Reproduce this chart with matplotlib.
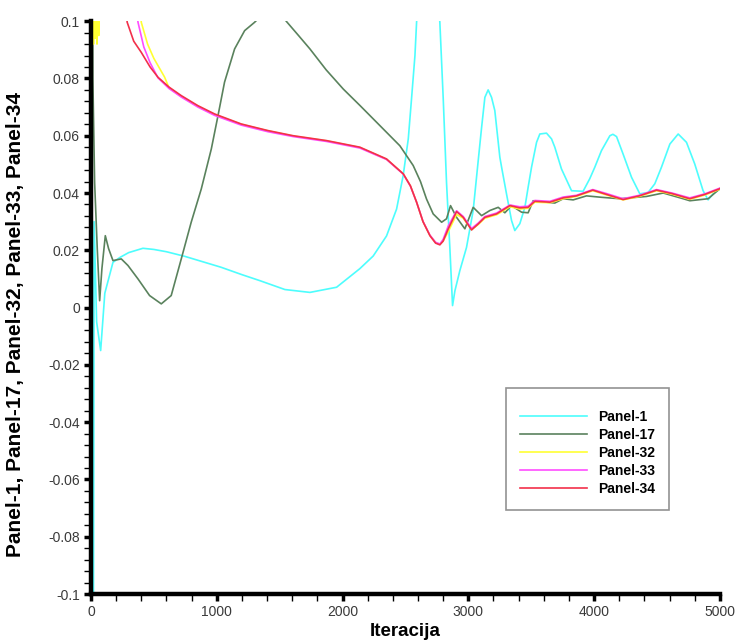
import matplotlib
matplotlib.use("Agg")
import matplotlib.pyplot as plt
from matplotlib.ticker import MultipleLocator

plt.rcParams['font.family'] = ['Liberation Sans', 'DejaVu Sans']

# Panel-1
p1_x = [0, 12, 25, 45, 77, 110, 175, 230, 300, 413, 500, 600, 745, 1033, 1200, 1343, 1542, 1741,
        1953, 2138, 2244, 2350, 2430, 2482, 2523, 2549, 2576, 2589, 2640, 2720, 2774, 2801, 2827,
        2854, 2875, 2894, 2933, 2986, 3039, 3079, 3106, 3132, 3158, 3185, 3211, 3251, 3265, 3304,
        3344, 3370, 3410, 3450, 3476, 3503, 3543, 3569, 3622, 3662, 3688, 3741, 3821, 3913, 3966,
        4006, 4059, 4126, 4150, 4179, 4231, 4298, 4364, 4430, 4483, 4536, 4603, 4669, 4735, 4801,
        4867, 4907, 4947, 5000]
p1_y = [0.3, -0.3, 0.03, -0.005, -0.015, 0.005, 0.0158, 0.0175, 0.0192, 0.0207, 0.0203, 0.0195,
        0.0179, 0.0141, 0.0115, 0.0094, 0.0063, 0.0053, 0.0071, 0.0136, 0.018, 0.025, 0.0344,
        0.046, 0.0589, 0.073, 0.088, 0.0996, 0.13, 0.13, 0.0996, 0.0728, 0.0437, 0.0205, 0.0007,
        0.0059, 0.0129, 0.021, 0.0339, 0.0513, 0.0629, 0.0734, 0.076, 0.0734, 0.0688, 0.0525,
        0.049, 0.0397, 0.0304, 0.0269, 0.0293, 0.035, 0.042, 0.049, 0.0577, 0.0606, 0.0609,
        0.0589, 0.056, 0.0484, 0.0408, 0.0406, 0.045, 0.049, 0.0548, 0.060, 0.0605, 0.0597,
        0.0536, 0.0455, 0.0397, 0.0402, 0.0432, 0.049, 0.0571, 0.0606, 0.0577, 0.0501, 0.0408,
        0.0376, 0.0397, 0.0414]

# Panel-17
p17_x = [0, 15, 29, 50, 69, 87, 114, 140, 175, 241, 294, 374, 466, 559, 638, 718, 797, 877, 957,
         1010, 1062, 1142, 1222, 1301, 1400, 1480, 1556, 1650, 1741, 1870, 2006, 2140, 2271, 2456,
         2562, 2620, 2668, 2721, 2788, 2827, 2859, 2907, 2973, 3039, 3106, 3172, 3238, 3291, 3344,
         3424, 3476, 3516, 3622, 3688, 3755, 3834, 3940, 4060, 4205, 4417, 4550, 4709, 4762, 4907,
         5000]
p17_y = [0.3, 0.08, 0.0437, 0.0206, 0.0024, 0.0136, 0.0251, 0.0206, 0.0164, 0.017, 0.0147,
         0.010, 0.0042, 0.0013, 0.0042, 0.017, 0.0298, 0.0414, 0.0554, 0.067, 0.0787, 0.0903,
         0.0967, 0.0996, 0.104, 0.104, 0.0998, 0.095, 0.0903, 0.083, 0.0763, 0.0705, 0.0647,
         0.0565, 0.0496, 0.044, 0.0379, 0.0327, 0.0298, 0.031, 0.0356, 0.0315, 0.0275, 0.035,
         0.0321, 0.0339, 0.035, 0.0331, 0.0356, 0.0333, 0.0331, 0.0373, 0.0368, 0.0365, 0.038,
         0.0376, 0.039, 0.0385, 0.038, 0.0388, 0.040, 0.038, 0.0373, 0.038, 0.0415]

# Panel-32
p32_x = [0, 10, 20, 27, 34, 41, 48, 55, 62, 70, 80, 300, 390, 400, 450, 500, 585, 620, 718, 850,
         983, 1195, 1407, 1608, 1873, 2138, 2350, 2483, 2540, 2589, 2640, 2695, 2740, 2774, 2800,
         2841, 2907, 2960, 3026, 3079, 3132, 3225, 3331, 3410, 3476, 3529, 3649, 3755, 3860, 3990,
         4100, 4231, 4360, 4497, 4620, 4761, 4880, 5000]
p32_y = [0.5, 0.12, 0.092, 0.115, 0.094, 0.12, 0.092, 0.13, 0.095, 0.14, 0.3, 0.3, 0.11, 0.0996,
         0.092, 0.087, 0.0805, 0.0768, 0.0737, 0.0703, 0.0674, 0.064, 0.0617, 0.0599, 0.0582,
         0.0559, 0.0518, 0.0467, 0.0425, 0.0368, 0.030, 0.0252, 0.0227, 0.0221, 0.0232, 0.0265,
         0.0325, 0.0312, 0.0272, 0.0290, 0.0312, 0.0324, 0.0352, 0.0344, 0.0347, 0.0368, 0.0366,
         0.0380, 0.0388, 0.0408, 0.0393, 0.0376, 0.0388, 0.0408, 0.0396, 0.0378, 0.0393, 0.0413]

# Panel-33
p33_x = [0, 100, 250, 330, 374, 420, 470, 533, 620, 718, 850, 983, 1195, 1407, 1608, 1873, 2138,
         2350, 2483, 2540, 2589, 2640, 2695, 2740, 2774, 2800, 2841, 2907, 2960, 3026, 3079, 3132,
         3225, 3331, 3410, 3476, 3529, 3649, 3755, 3860, 3990, 4100, 4231, 4360, 4497, 4620, 4761,
         4880, 5000]
p33_y = [0.5, 0.3, 0.16, 0.115, 0.0996, 0.091, 0.0855, 0.0802, 0.0765, 0.0735, 0.070, 0.0671,
         0.0637, 0.0614, 0.0597, 0.0580, 0.0557, 0.0517, 0.0466, 0.0424, 0.0368, 0.0301, 0.0253,
         0.0228, 0.0222, 0.0238, 0.0285, 0.0338, 0.0318, 0.0276, 0.0295, 0.0318, 0.0330, 0.0358,
         0.0352, 0.0354, 0.0374, 0.0371, 0.0386, 0.0392, 0.0412, 0.0398, 0.0380, 0.0392, 0.0412,
         0.0400, 0.0383, 0.0397, 0.0417]

# Panel-34
p34_x = [0, 100, 200, 250, 288, 340, 400, 470, 533, 620, 718, 850, 983, 1195, 1407, 1608, 1873,
         2138, 2350, 2483, 2540, 2589, 2640, 2695, 2740, 2774, 2800, 2841, 2907, 2960, 3026, 3079,
         3132, 3225, 3331, 3410, 3476, 3529, 3649, 3755, 3860, 3990, 4100, 4231, 4360, 4497, 4620,
         4761, 4880, 5000]
p34_y = [0.5, 0.3, 0.14, 0.115, 0.0996, 0.093, 0.0891, 0.084, 0.0804, 0.077, 0.074, 0.0705,
         0.0676, 0.0641, 0.0618, 0.060, 0.0583, 0.056, 0.0519, 0.0467, 0.0425, 0.0368, 0.030,
         0.0251, 0.0225, 0.0219, 0.0232, 0.0275, 0.0335, 0.0315, 0.0271, 0.0292, 0.0315, 0.0327,
         0.0356, 0.0348, 0.035, 0.0371, 0.0368, 0.0383, 0.039, 0.041, 0.0395, 0.0377, 0.039,
         0.041, 0.0398, 0.038, 0.0395, 0.0415]

x_ticks = [0, 1000, 2000, 3000, 4000, 5000]
x_labels = ["0", "1000", "2000", "3000", "4000", "5000"]
y_ticks = [-0.1, -0.08, -0.06, -0.04, -0.02, 0, 0.02, 0.04, 0.06, 0.08, 0.1]
y_labels = ["-0.1", "-0.08", "-0.06", "-0.04", "-0.02", "0", "0.02", "0.04", "0.06", "0.08", "0.1"]

fig = plt.figure(figsize=(7.36, 6.41), dpi=100)
ax = fig.add_axes([0.1236, 0.0733, 0.8544, 0.8937])

ax.plot(p1_x, p1_y, color="#4dfdfd", lw=1.2, label="Panel-1")
ax.plot(p17_x, p17_y, color="#5a825d", lw=1.2, label="Panel-17")
ax.plot(p32_x, p32_y, color="#ffff33", lw=1.2, label="Panel-32")
ax.plot(p33_x, p33_y, color="#ff4dff", lw=1.2, label="Panel-33")
ax.plot(p34_x, p34_y, color="#f2304a", lw=1.2, label="Panel-34")

ax.set_xlim(0, 5000)
ax.set_ylim(-0.1, 0.1)
ax.set_xticks(x_ticks)
ax.set_xticklabels(x_labels)
ax.set_yticks(y_ticks)
ax.set_yticklabels(y_labels)
ax.xaxis.set_minor_locator(MultipleLocator(200))
ax.yaxis.set_minor_locator(MultipleLocator(0.004))

for s in ["top", "right"]:
    ax.spines[s].set_visible(False)
for s in ["left", "bottom"]:
    ax.spines[s].set_linewidth(3.2)
    ax.spines[s].set_zorder(5)

ax.tick_params(which="major", direction="out", length=5, width=2.5, colors="black",
               labelsize=10, labelcolor="#3a3a3a", pad=3)
ax.tick_params(which="minor", direction="out", length=5, width=1, colors="black")

ax.set_xlabel("Iteracija", fontsize=13.5, fontweight="bold", labelpad=3)
ax.set_ylabel("Panel-1, Panel-17, Panel-32, Panel-33, Panel-34", fontsize=15,
              fontweight="bold")
ax.yaxis.set_label_coords(-0.105, 0.471)

leg = ax.legend(loc="lower left", bbox_to_anchor=(0.66, 0.147), frameon=True, fancybox=False,
                shadow=False, handlelength=4.8, handletextpad=0.85, labelspacing=0.28,
                borderpad=1.0, borderaxespad=0, title=" ", title_fontsize=4,
                prop={"weight": "bold", "size": 10})
leg.get_frame().set_edgecolor("#777777")
leg.get_frame().set_linewidth(1.2)

fig.savefig("out.png", dpi=100)
